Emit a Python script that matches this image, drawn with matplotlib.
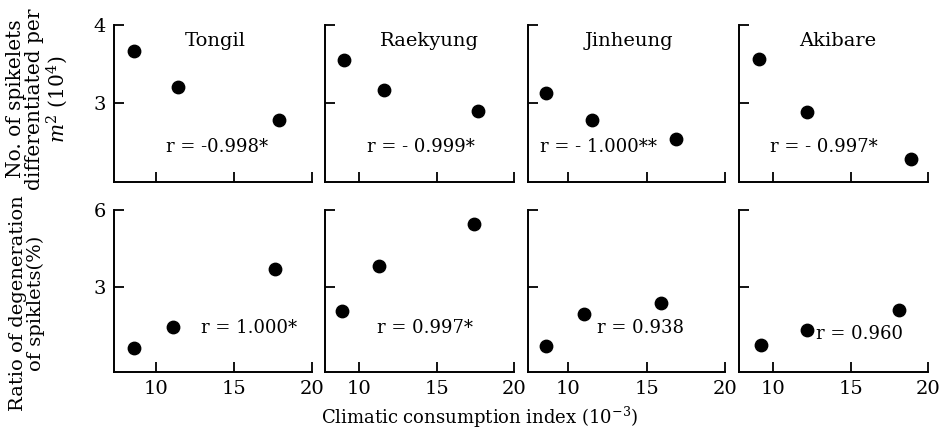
import matplotlib
matplotlib.use("Agg")
import matplotlib.pyplot as plt

plt.rcParams['font.family'] = ['DejaVu Serif']
plt.rcParams['mathtext.fontset'] = 'dejavuserif'

varieties = ["Tongil", "Raekyung", "Jinheung", "Akibare"]

# Climatic consumption index (10^-3)
x_top = [[8.6, 11.4, 17.9], [9.0, 11.6, 17.7], [8.6, 11.5, 16.9], [9.1, 12.2, 18.9]]
x_bot = [[8.6, 11.1, 17.6], [8.9, 11.3, 17.4], [8.6, 11.0, 15.9], [9.2, 12.2, 18.1]]
# No. of spikelets differentiated per m2 (10^4)
spikelets = [[3.67, 3.21, 2.79], [3.55, 3.17, 2.90], [3.13, 2.79, 2.54], [3.57, 2.89, 2.28]]
# Ratio of degeneration of spikelets (%)
degeneration = [[0.62, 1.44, 3.70], [2.08, 3.81, 5.46], [0.71, 1.94, 2.39], [0.76, 1.33, 2.13]]

r_top = ["r = -0.998*", "r = - 0.999*", "r = - 1.000**", "r = - 0.997*"]
r_bot = ["r = 1.000*", "r = 0.997*", "r = 0.938", "r = 0.960"]

xticks = [10, 15, 20]
yticks_top = [3, 4]
yticks_bot = [3, 6]

W, H = 943, 434
fig = plt.figure(figsize=(W / 100, H / 100), dpi=100)

lefts = [114, 325, 528, 739]
rights = [312, 514, 725, 928]
xlefts = [7.3, 7.8, 7.45, 7.8]
top_row = (25, 182)
bot_row = (210, 372)

r_top_pos = [(0.52, 0.22), (0.51, 0.22), (0.36, 0.22), (0.45, 0.22)]
r_bot_pos = [(0.68, 0.27), (0.53, 0.27), (0.57, 0.27), (0.64, 0.235)]
title_x = [0.51, 0.55, 0.51, 0.52]


def style(ax, yt, show_x, show_y):
    for s in ["top", "right"]:
        ax.spines[s].set_visible(False)
    for s in ["left", "bottom"]:
        ax.spines[s].set_linewidth(1.4)
    ax.set_xticks(xticks)
    ax.set_yticks(yt)
    ax.tick_params(direction="in", length=7, width=1.3, labelsize=14, pad=6)
    if not show_x:
        ax.set_xticklabels([])
    if not show_y:
        ax.set_yticklabels([])


for i in range(4):
    l, r = lefts[i], rights[i]
    # top row
    ax = fig.add_axes([l / W, 1 - top_row[1] / H, (r - l) / W, (top_row[1] - top_row[0]) / H])
    ax.scatter(x_top[i], spikelets[i], s=80, color="black", zorder=3, clip_on=False)
    ax.set_xlim(xlefts[i], 20)
    ax.set_ylim(1.99, 4)
    style(ax, yticks_top, False, i == 0)
    ax.text(title_x[i], 0.90, varieties[i], transform=ax.transAxes, ha="center", va="center", fontsize=14)
    ax.text(r_top_pos[i][0], r_top_pos[i][1], r_top[i], transform=ax.transAxes,
            ha="center", va="center", fontsize=13)

    # bottom row
    ax2 = fig.add_axes([l / W, 1 - bot_row[1] / H, (r - l) / W, (bot_row[1] - bot_row[0]) / H])
    ax2.scatter(x_bot[i], degeneration[i], s=80, color="black", zorder=3, clip_on=False)
    ax2.set_xlim(xlefts[i], 20)
    ax2.set_ylim(-0.3, 6)
    style(ax2, yticks_bot, True, i == 0)
    ax2.text(r_bot_pos[i][0], r_bot_pos[i][1], r_bot[i], transform=ax2.transAxes,
             ha="center", va="center", fontsize=13)

fig.text(38 / W, 1 - 99 / H, "No. of spikelets\ndifferentiated per\n$m^2$ (10$^4$)",
         rotation=90, ha="center", va="center", multialignment="center", fontsize=14.5, linespacing=1.0)
fig.text(27 / W, 1 - 303 / H, "Ratio of degeneration\nof spiklets(%)",
         rotation=90, ha="center", va="center", multialignment="center", fontsize=14, linespacing=1.05)
fig.text(480 / W, 1 - 417 / H, "Climatic consumption index (10$^{-3}$)",
         ha="center", va="center", fontsize=13)

fig.savefig("out.png", dpi=100)
